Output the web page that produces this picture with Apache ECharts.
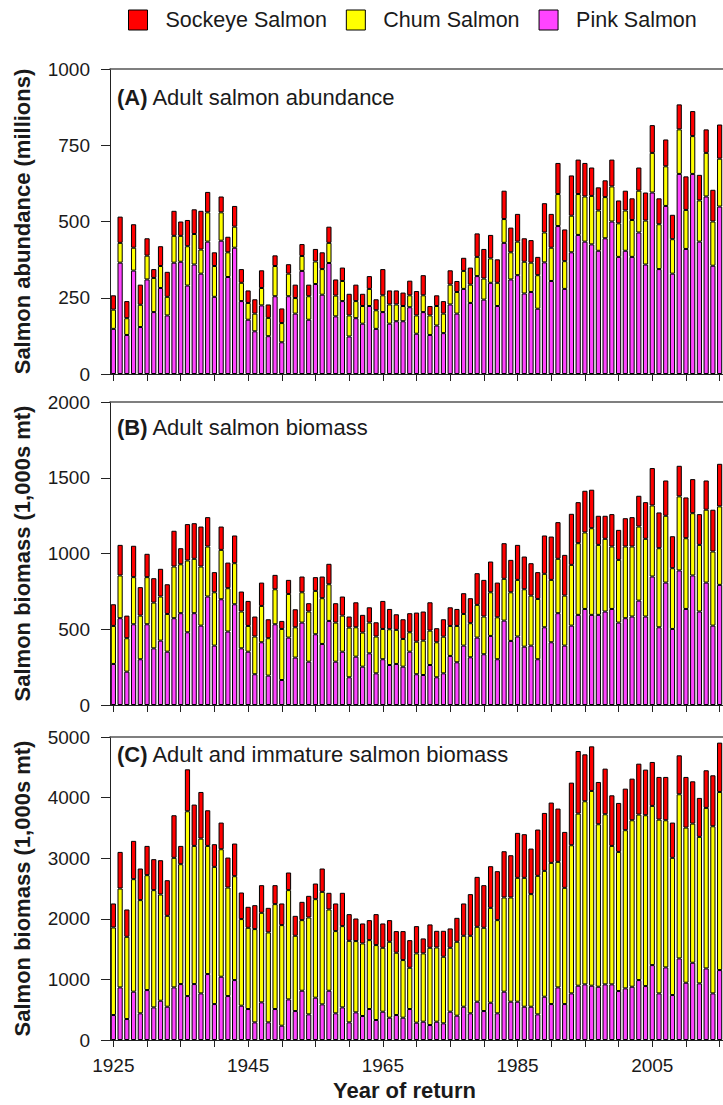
<!DOCTYPE html>
<html><head><meta charset="utf-8">
<script src="https://cdn.jsdelivr.net/npm/echarts@6/dist/echarts.min.js"></script>
<style>html,body{margin:0;padding:0;background:#fff}#c{width:723px;height:1105px}</style>
</head><body><div id="c"></div>
<script>
const years = [1925,1926,1927,1928,1929,1930,1931,1932,1933,1934,1935,1936,1937,1938,1939,1940,1941,1942,1943,1944,1945,1946,1947,1948,1949,1950,1951,1952,1953,1954,1955,1956,1957,1958,1959,1960,1961,1962,1963,1964,1965,1966,1967,1968,1969,1970,1971,1972,1973,1974,1975,1976,1977,1978,1979,1980,1981,1982,1983,1984,1985,1986,1987,1988,1989,1990,1991,1992,1993,1994,1995,1996,1997,1998,1999,2000,2001,2002,2003,2004,2005,2006,2007,2008,2009,2010,2011,2012,2013,2014,2015];
const speciesNames = ['Sockeye Salmon','Chum Salmon','Pink Salmon'];

// (A) Adult salmon abundance (millions)
const pinkAbund = [148,365,128,339,154,310,203,282,192,365, 368,290,359,329,434,253,437,318,414,239, 178,140,225,124,255,104,255,198,338,178, 295,260,364,189,239,123,183,165,223,148, 203,165,173,173,219,132,203,128,159,134, 228,198,279,233,321,244,299,223,430,310, 324,264,269,214,366,305,485,279,399,456, 434,425,404,445,500,384,404,384,464,359, 595,344,551,329,656,410,656,434,582,355, 549];
const chumAbund = [63,65,55,75,73,78,112,72,61,88, 85,129,100,79,96,101,93,81,69,60, 55,58,57,60,99,63,74,51,49,77, 74,84,66,68,66,69,56,58,56,61, 55,63,55,50,39,60,55,64,64,64, 65,71,59,60,63,69,80,76,78,89, 110,104,96,110,98,109,105,91,120,134, 148,159,132,135,115,110,132,121,137,144, 130,147,130,113,146,128,124,135,143,145, 157];
const sockeyeAbund = [47,86,56,77,66,57,29,65,82,82, 47,86,81,127,67,45,52,51,68,45, 41,47,58,44,35,48,31,44,39,38, 41,55,53,53,44,71,54,40,42,36, 86,46,46,44,48,80,66,31,35,41, 47,36,43,56,77,97,77,77,93,81, 91,77,74,60,96,111,102,104,132,113, 110,93,76,55,88,75,65,71,76,92, 91,85,88,80,82,110,82,84,77,104, 112];

// (B) Adult salmon biomass (1,000s mt)
const pinkAdultBio = [271,573,220,533,302,533,374,425,352,573, 606,480,606,524,716,392,698,485,665,374, 352,203,414,194,533,165,445,313,544,286, 467,403,555,286,352,183,319,253,341,209, 302,264,271,253,352,203,198,264,183,209, 324,282,392,315,445,335,456,302,557,423, 452,385,392,302,513,414,606,392,524,595, 634,595,595,617,634,544,573,584,689,584, 848,513,808,502,888,634,855,617,808,524, 793];
const chumAdultBio = [251,282,221,311,288,311,302,291,249,341, 323,474,359,390,330,352,326,286,271,243, 170,249,240,247,231,337,288,200,200,331, 286,302,242,258,238,328,194,225,203,243, 200,236,225,183,128,215,227,227,231,242, 198,240,209,225,216,249,288,277,276,321, 374,379,330,398,353,412,359,330,401,473, 505,572,462,480,412,414,473,462,489,513, 469,522,441,401,489,467,411,440,481,489, 518];
const sockeyeAdultBio = [143,202,149,207,188,154,161,183,196,236, 106,240,235,264,194,133,154,169,183,132, 165,132,154,125,95,53,93,119,104,55, 91,143,135,128,126,73,165,117,101,94, 185,134,103,130,126,192,192,187,93,115, 123,112,137,165,209,242,203,229,235,214, 231,216,214,177,253,286,242,269,337,271, 275,254,192,152,214,198,187,194,203,242, 247,236,233,211,202,269,225,203,193,276, 281];

// (C) Adult and immature salmon biomass (1,000s mt)
const pinkTotalBio = [412,868,346,797,440,824,538,648,549,868, 923,725,923,769,1088,593,1044,725,989,566, 511,291,621,291,511,236,670,478,813,423, 698,588,813,440,538,291,456,396,511,330, 467,368,412,368,511,286,302,247,302,275, 467,401,549,440,632,478,615,440,797,632, 632,549,549,423,714,593,868,593,769,896, 918,896,879,918,918,808,852,879,989,890, 1236,769,1198,742,1346,945,1275,934,1181,769, 1154];
const chumTotalBio = [1445,1632,1357,1857,1868,1896,1935,1753,1500,2138, 1978,3050,2280,2555,2115,2264,2104,1791,1714,1429, 1341,1539,1478,1484,1731,1660,1803,1242,1165,1599, 1626,1857,1341,1357,1341,1346,1176,1197,1137,1236, 1055,1253,1028,951,681,1143,1127,1275,1225,1099, 1055,1220,1171,1280,1236,1374,1566,1538,1555,1720, 2044,2127,1858,2286,2077,2330,2072,1918,2445,2840, 3022,3214,2681,2807,2285,2296,2610,2747,2731,2819, 2627,2868,2428,2264,2709,2560,2296,2418,2649,2758, 2939];
const sockeyeTotalBio = [396,604,451,632,522,483,511,566,588,703, 302,692,682,769,588,374,440,495,539,439, 346,395,456,406,313,357,291,329,302,357, 258,385,275,456,550,440,373,330,330,511, 401,357,357,478,456,450,247,385,275,428, 319,395,533,687,824,703,687,808,763,697, 742,720,752,764,956,995,879,923,1033,1033, 774,736,698,753,835,808,686,687,840,753, 725,704,715,582,643,836,698,643,621,841, 814];

const FONT = '"Liberation Sans", Arial, Helvetica, sans-serif';
const TXT = '#1a1a1a';
const COLORS = {'Sockeye Salmon':'#ff0000','Chum Salmon':'#ffff00','Pink Salmon':'#ff44ff'};

const panels = [
  {top:69, height:305, max:1000, interval:250, yName:'Salmon abundance (millions)', tag:'(A)', label:'Adult salmon abundance', titleTop:86,
   series:{'Pink Salmon':pinkAbund,'Chum Salmon':chumAbund,'Sockeye Salmon':sockeyeAbund}},
  {top:402, height:303, max:2000, interval:500, yName:'Salmon biomass (1,000s mt)', tag:'(B)', label:'Adult salmon biomass', titleTop:416,
   series:{'Pink Salmon':pinkAdultBio,'Chum Salmon':chumAdultBio,'Sockeye Salmon':sockeyeAdultBio}},
  {top:737, height:303, max:5000, interval:1000, yName:'Salmon biomass (1,000s mt)', tag:'(C)', label:'Adult and immature salmon biomass', titleTop:743,
   series:{'Pink Salmon':pinkTotalBio,'Chum Salmon':chumTotalBio,'Sockeye Salmon':sockeyeTotalBio}}
];

const grid = [], xAxis = [], yAxis = [], series = [], title = [];
panels.forEach((p, i) => {
  grid.push({left:110, width:617, top:p.top, height:p.height, containLabel:false});
  xAxis.push({
    type:'category', gridIndex:i, data:years, position:'bottom', boundaryGap:true,
    axisLine:{show:true, onZero:false, lineStyle:{color:'#222', width:1}},
    axisTick:{show:true, alignWithLabel:true, interval:(idx)=>idx%5===0, length:7, lineStyle:{color:'#222', width:1}},
    axisLabel:{show:i===2, interval:(idx)=>idx%20===0, fontSize:19, color:TXT, margin:16, fontFamily:FONT},
    splitLine:{show:false},
    name: i===2 ? 'Year of return' : '', nameLocation:'middle', nameGap:39,
    nameTextStyle:{fontSize:22, fontWeight:'bold', color:TXT, fontFamily:FONT, padding:[0,24,0,0]}
  });
  yAxis.push({
    type:'value', gridIndex:i, min:0, max:p.max, interval:p.interval,
    axisLine:{show:true, lineStyle:{color:'#222', width:1}},
    axisTick:{show:true, length:9, lineStyle:{color:'#222', width:1}},
    splitLine:{show:false},
    axisLabel:{fontSize:19, color:TXT, margin:20, fontFamily:FONT, formatter:(v)=>String(v)},
    name:p.yName, nameLocation:'middle', nameGap:77,
    nameTextStyle:{fontSize:22, fontWeight:'bold', color:TXT, fontFamily:FONT}
  });
  title.push({
    text:'{b|' + p.tag + '} ' + p.label, left:117, top:p.titleTop, padding:0,
    textStyle:{fontSize:22, fontWeight:'normal', color:TXT, fontFamily:FONT,
      rich:{b:{fontSize:22, fontWeight:'bold', color:TXT, fontFamily:FONT}}}
  });
  ['Pink Salmon','Chum Salmon','Sockeye Salmon'].forEach(name => {
    series.push({
      type:'bar', name, xAxisIndex:i, yAxisIndex:i, stack:'s'+i, barWidth:5.2,
      data:p.series[name],
      itemStyle:{color:COLORS[name], borderColor:'#000', borderWidth:1},
      emphasis:{disabled:true}, silent:true
    });
  });
});
panels.forEach((p, i) => {
  xAxis.push({
    type:'category', gridIndex:i, data:years, position:'top',
    axisLine:{show:true, onZero:false, lineStyle:{color:'#555', width:1.5}},
    axisTick:{show:false}, axisLabel:{show:false}, splitLine:{show:false}
  });
});

const chart = echarts.init(document.getElementById('c'), null, {renderer:'svg'});
chart.setOption({
  animation:false,
  backgroundColor:'#fff',
  textStyle:{fontFamily:FONT},
  title,
  legend:{
    data:speciesNames, left:128, top:9, padding:0, itemWidth:19, itemHeight:20, itemGap:19,
    icon:'rect', selectedMode:false,
    itemStyle:{borderColor:'#000', borderWidth:1},
    textStyle:{fontSize:21.5, color:TXT, fontFamily:FONT, padding:[0,0,0,13]}
  },
  grid, xAxis, yAxis, series
});
</script></body></html>
